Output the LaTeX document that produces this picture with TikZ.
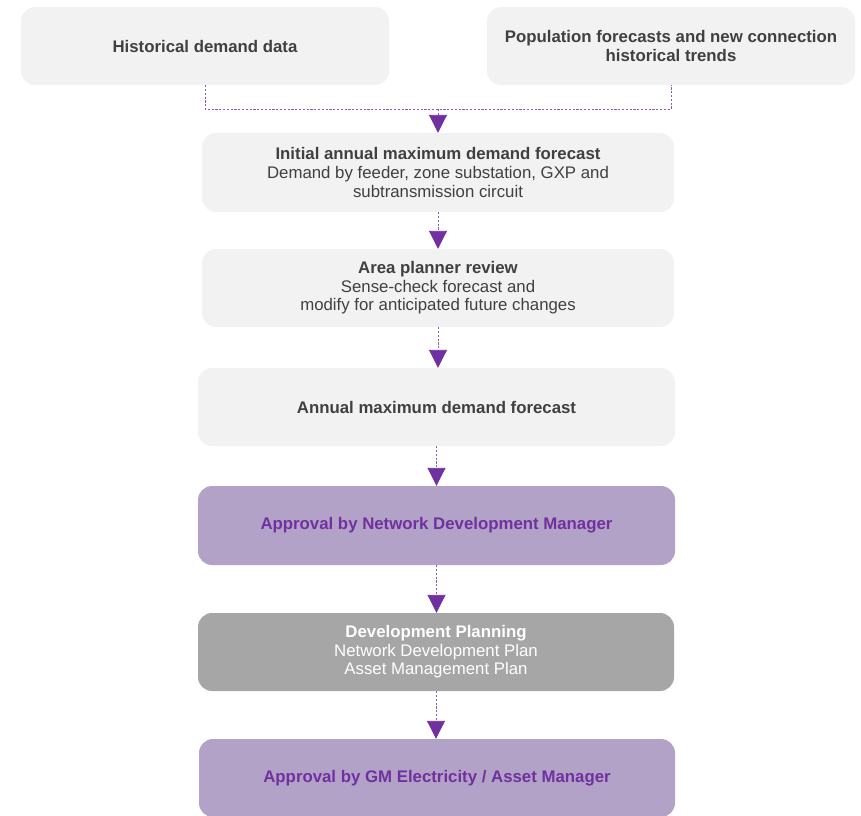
\documentclass[tikz,border=0pt]{standalone}
\usepackage{fontspec}
\setmainfont{Liberation Sans}
\usetikzlibrary{arrows.meta}
\definecolor{boxgrey}{HTML}{F2F2F2}
\definecolor{boxlilac}{HTML}{B3A2C7}
\definecolor{boxdark}{HTML}{A6A6A6}
\definecolor{txtdark}{HTML}{404040}
\definecolor{deeppurple}{HTML}{7030A0}
\definecolor{linepurple}{HTML}{8C5CB8}
\tikzset{
  x=1pt, y=-1pt,
  stage/.style={rounded corners=14pt, inner sep=0pt, align=center,
    font=\fontsize{16.8}{18.6}\selectfont},
  greybox/.style={stage, fill=boxgrey, text=txtdark},
  lilacbox/.style={stage, fill=boxlilac, text=deeppurple, font=\fontsize{16.8}{18.6}\selectfont\bfseries},
  darkbox/.style={stage, fill=boxdark, text=white},
  flow/.style={draw=linepurple, line width=0.9pt, dash pattern=on 2.2pt off 1.6pt},
  flowarrow/.style={flow, -{Triangle[width=18pt,length=18pt,fill=deeppurple,color=deeppurple]}},
}
\begin{document}
\begin{tikzpicture}
\useasboundingbox (0,0) rectangle (861,815);

\node[greybox, minimum width=368pt, minimum height=78pt] (hist) at (205,46)
  {\bfseries Historical demand data};
\node[greybox, minimum width=368pt, minimum height=78pt] (pop) at (671,46)
  {\bfseries Population forecasts and new connection\\ \bfseries historical trends};

\node[greybox, minimum width=472pt, minimum height=79pt] (init) at (438,172.5)
  {\bfseries Initial annual maximum demand forecast\\
   Demand by feeder, zone substation, GXP and\\ subtransmission circuit};
\node[greybox, minimum width=472pt, minimum height=78pt] (review) at (438,288)
  {\bfseries Area planner review\\ Sense-check forecast and\\
   modify for anticipated future changes};
\node[greybox, minimum width=477pt, minimum height=78pt] (annual) at (436.5,407)
  {\bfseries Annual maximum demand forecast};
\node[lilacbox, minimum width=477pt, minimum height=79pt] (ndm) at (436.5,525.5)
  {Approval by Network Development Manager};
\node[darkbox, minimum width=476pt, minimum height=78pt] (devplan) at (436,652)
  {\bfseries Development Planning\\ Network Development Plan\\ Asset Management Plan};
\node[lilacbox, minimum width=476pt, minimum height=78pt] (gm) at (437,778)
  {Approval by GM Electricity / Asset Manager};

% merge of the two input boxes
\coordinate (join) at (438,109);
\draw[flow] (hist.south) |- (pop.south |- join) -- (pop.south);

% main flow
\draw[flowarrow] (join) -- (join |- init.north);
\draw[flowarrow] (init.south) -- (init.south |- review.north);
\draw[flowarrow] (review.south) -- (review.south |- annual.north);
\draw[flowarrow] (annual.south) -- (ndm.north);
\draw[flowarrow] (ndm.south) -- (ndm.south |- devplan.north);
\draw[flowarrow] (devplan.south) -- (devplan.south |- gm.north);
\end{tikzpicture}
\end{document}
